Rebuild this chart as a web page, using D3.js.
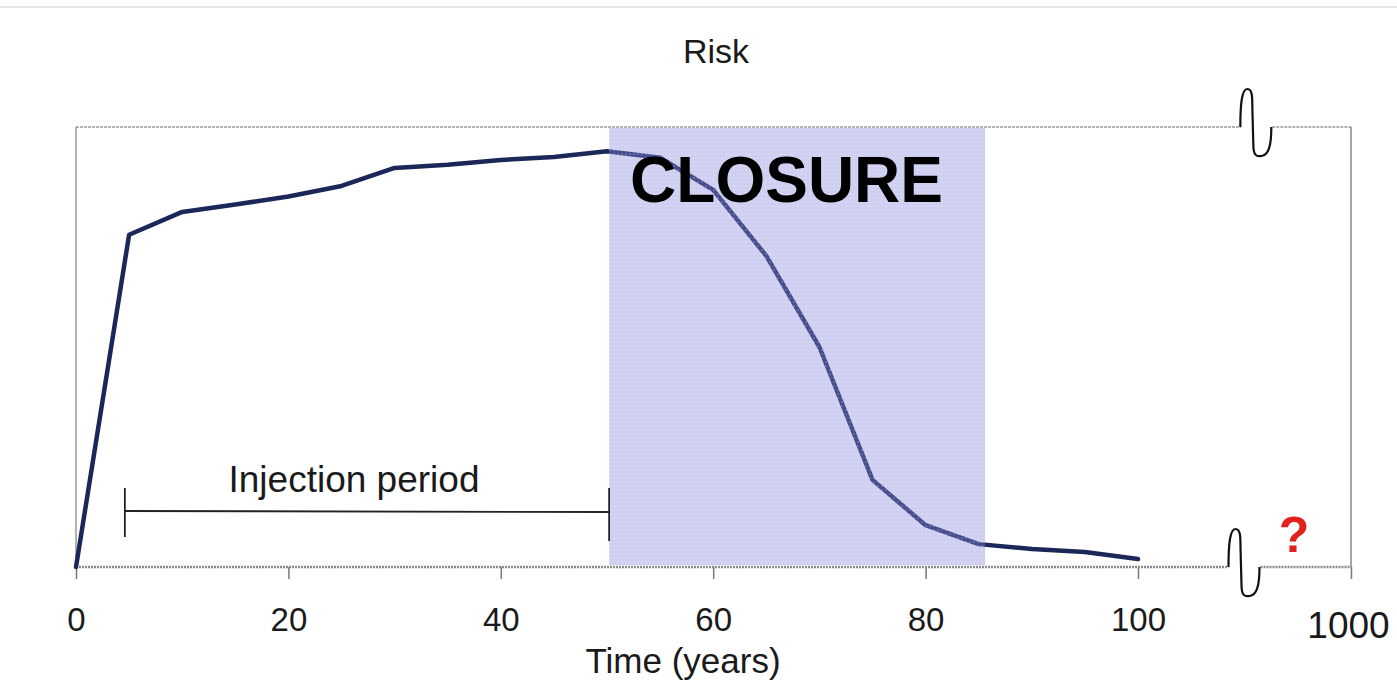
<!DOCTYPE html>
<html>
<head>
<meta charset="utf-8">
<script src="https://cdn.jsdelivr.net/npm/d3@7"></script>
<style>
    body { margin: 0; background: #fff; }
    svg { display: block; font-family: "Liberation Sans", Arial, sans-serif; }
</style>
</head>
<body>
<div id="chart"></div>
<script>
// Risk profile over time
const years = [0, 5, 10, 15, 20, 25, 30, 35, 40, 45, 50, 55, 60, 65, 70, 75, 80, 85, 90, 95, 100];
const risk = [0, 75.5, 80.7, 82.4, 84.2, 86.6, 90.7, 91.4, 92.5, 93.2, 94.5, 93.0, 85.7, 70.7, 50.0, 19.8, 9.5, 5.2, 4.1, 3.4, 1.8];

const tickValues = [0, 20, 40, 60, 80, 100];
const farTick = 1000;
const injectionPeriod = [4.6, 50.2];
const closurePeriod = [50.2, 85.6];
const breakBottom = 550;
const breakTop = 600;

const width = 1397, height = 682;

const svg = d3.select('#chart')
    .append('svg')
    .attr('width', width)
    .attr('height', height);

// piecewise x scale: 0-100 linear, then a broken jump to 1000
const x = d3.scaleLinear()
    .domain([0, 100, 1000])
    .range([76, 1138, 1351]);
const y = d3.scaleLinear()
    .domain([0, 100])
    .range([567, 127]);

// faint scan line at the very top
svg.append('line')
    .attr('x1', 0).attr('x2', width)
    .attr('y1', 7).attr('y2', 7)
    .attr('stroke', '#ddd')
    .attr('stroke-width', 1.5);

// dot pattern for the closure band
const defs = svg.append('defs');
const pat = defs.append('pattern')
    .attr('id', 'dots')
    .attr('width', 4)
    .attr('height', 4)
    .attr('patternUnits', 'userSpaceOnUse');
pat.append('circle')
    .attr('cx', 2).attr('cy', 2).attr('r', 0.6)
    .attr('fill', '#fff')
    .attr('opacity', 0.7);

const cxB = x(breakBottom), cxT = x(breakTop);

// frame: left, top (broken), right
const frame = svg.append('g')
    .attr('stroke', '#999')
    .attr('stroke-width', 1.5)
    .attr('fill', 'none');
frame.append('line')
    .attr('x1', x(0)).attr('x2', x(0))
    .attr('y1', y(100)).attr('y2', y(0));
frame.append('line')
    .attr('x1', x(0)).attr('x2', cxT - 15)
    .attr('y1', y(100)).attr('y2', y(100))
    .attr('stroke-dasharray', '3,1');
frame.append('line')
    .attr('x1', cxT + 16).attr('x2', x(farTick))
    .attr('y1', y(100)).attr('y2', y(100))
    .attr('stroke-dasharray', '3,1');
frame.append('line')
    .attr('x1', x(farTick)).attr('x2', x(farTick))
    .attr('y1', y(100)).attr('y2', y(0))
    .attr('stroke', '#888');

// bottom axis
const axis = svg.append('g')
    .attr('transform', `translate(0, ${y(0)})`)
    .call(d3.axisBottom(x)
        .tickValues(tickValues.concat([farTick]))
        .tickFormat(d => d)
        .tickSize(12));
axis.select('.domain').remove();
axis.selectAll('.tick line')
    .attr('stroke', '#777')
    .attr('stroke-width', 1.5);
axis.selectAll('.tick text')
    .attr('dy', null)
    .attr('y', 64)
    .attr('fill', '#1a1a1a')
    .style('font-size', '33px')
    .style('font-family', '"Liberation Sans", Arial, sans-serif');
axis.selectAll('.tick text')
    .filter(d => d === farTick)
    .attr('y', 71)
    .attr('dx', -3)
    .style('font-size', '37px');

const axisLine = svg.append('g')
    .attr('stroke', '#8a8a8a')
    .attr('stroke-width', 2.5)
    .attr('stroke-dasharray', '2,1');
axisLine.append('line')
    .attr('x1', x(0)).attr('x2', cxB - 16)
    .attr('y1', y(0)).attr('y2', y(0));
axisLine.append('line')
    .attr('x1', cxB + 16).attr('x2', x(farTick))
    .attr('y1', y(0)).attr('y2', y(0));

// break squiggles
const squiggle = 'M-16,0 C-16,-20 -15,-38 -9,-38 C-4,-38 -4,-30 -4,-20 L-3,18 C-3,28 0,30 5,29 C12,28 15,20 15,0';
svg.append('path')
    .attr('d', squiggle)
    .attr('transform', `translate(${cxB}, ${y(0)})`)
    .attr('fill', 'none')
    .attr('stroke', '#111')
    .attr('stroke-width', 2.2);
svg.append('path')
    .attr('d', squiggle)
    .attr('transform', `translate(${cxT}, ${y(100)})`)
    .attr('fill', 'none')
    .attr('stroke', '#111')
    .attr('stroke-width', 2.2);

// risk line
const line = d3.line()
    .x((d, i) => x(years[i]))
    .y(d => y(d));
svg.append('path')
    .datum(risk)
    .attr('d', line)
    .attr('fill', 'none')
    .attr('stroke', '#1b2759')
    .attr('stroke-width', 4.5)
    .attr('stroke-linejoin', 'round')
    .attr('stroke-linecap', 'round');

// closure band drawn over the line
svg.append('rect')
    .attr('x', x(closurePeriod[0]))
    .attr('y', y(100) + 1)
    .attr('width', x(closurePeriod[1]) - x(closurePeriod[0]))
    .attr('height', y(0) - y(100) - 3)
    .attr('fill', 'rgb(135,135,220)')
    .attr('fill-opacity', 0.4);
svg.append('rect')
    .attr('x', x(closurePeriod[0]))
    .attr('y', y(100) + 1)
    .attr('width', x(closurePeriod[1]) - x(closurePeriod[0]))
    .attr('height', y(0) - y(100) - 3)
    .attr('fill', 'url(#dots)');

svg.append('text')
    .attr('x', x(closurePeriod[0]) + 21)
    .attr('y', 202)
    .attr('fill', '#000')
    .style('font-size', '64px')
    .style('font-weight', 'bold')
    .text('CLOSURE');

// injection period bracket
const inj = svg.append('g')
    .attr('stroke', '#222')
    .attr('stroke-width', 1.8);
inj.append('line')
    .attr('x1', x(injectionPeriod[0])).attr('x2', x(injectionPeriod[1]))
    .attr('y1', 511).attr('y2', 512);
inj.append('line')
    .attr('x1', x(injectionPeriod[0])).attr('x2', x(injectionPeriod[0]))
    .attr('y1', 488).attr('y2', 537);
inj.append('line')
    .attr('x1', x(injectionPeriod[1])).attr('x2', x(injectionPeriod[1]))
    .attr('y1', 488).attr('y2', 541);

svg.append('text')
    .attr('x', 354)
    .attr('y', 492)
    .attr('text-anchor', 'middle')
    .attr('fill', '#1a1a1a')
    .style('font-size', '37px')
    .text('Injection period');

// titles
svg.append('text')
    .attr('x', 716)
    .attr('y', 63)
    .attr('text-anchor', 'middle')
    .attr('fill', '#1a1a1a')
    .style('font-size', '34px')
    .text('Risk');

svg.append('text')
    .attr('x', 683)
    .attr('y', 673)
    .attr('text-anchor', 'middle')
    .attr('fill', '#1a1a1a')
    .style('font-size', '35px')
    .text('Time (years)');

svg.append('text')
    .attr('x', 1294)
    .attr('y', 552)
    .attr('text-anchor', 'middle')
    .attr('fill', '#e3211c')
    .style('font-size', '50px')
    .style('font-weight', 'bold')
    .text('?');
</script>
</body>
</html>
